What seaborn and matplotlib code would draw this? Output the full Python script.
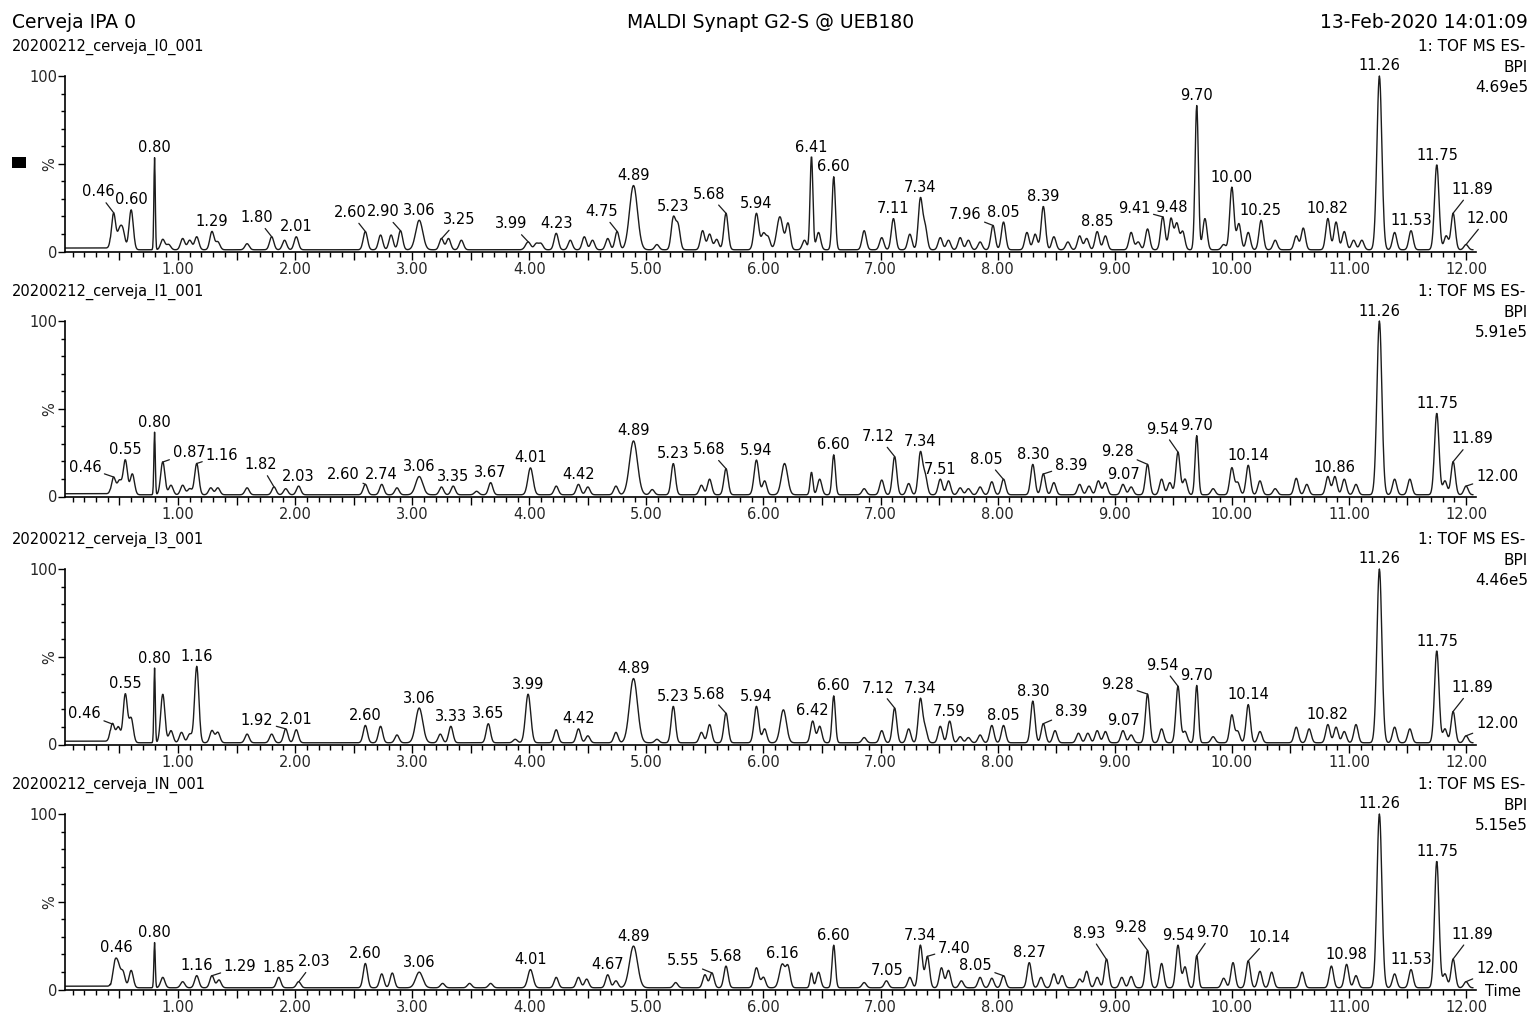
# BPI chromatograms of the IPA beer samples (MassLynx style export)

import numpy as np
import pandas as pd
import matplotlib
matplotlib.use('Agg')
import matplotlib.pyplot as plt
from matplotlib.patches import Rectangle
import seaborn as sns


# Header texts
title_left = 'Cerveja IPA 0'
title_mid = 'MALDI Synapt G2-S @ UEB180'
title_right = '13-Feb-2020 14:01:09'

samples = ['20200212_cerveja_I0_001', '20200212_cerveja_I1_001',
           '20200212_cerveja_I3_001', '20200212_cerveja_IN_001']
intensity = ['4.69e5', '5.91e5', '4.46e5', '5.15e5']
start_level = [2.0, 1.6, 1.9, 1.9]

# Peaks: retention time (min) and height (%)
rt_i0 = [0.45, 0.50, 0.53, 0.60, 0.80, 0.87, 0.92, 1.04, 1.10, 1.16,
         1.29, 1.34, 1.59, 1.80, 1.91, 2.01, 2.60, 2.73, 2.82, 2.90,
         3.06, 3.25, 3.31, 3.42, 3.99, 4.06, 4.10, 4.23, 4.35, 4.47,
         4.54, 4.67, 4.75, 4.89, 5.09, 5.23, 5.27, 5.48, 5.54, 5.60,
         5.68, 5.94, 6.00, 6.04, 6.14, 6.21, 6.35, 6.41, 6.47, 6.60,
         6.86, 7.01, 7.11, 7.25, 7.34, 7.38, 7.51, 7.58, 7.68, 7.75,
         7.85, 7.96, 8.05, 8.25, 8.32, 8.39, 8.48, 8.60, 8.70, 8.76,
         8.85, 8.92, 9.14, 9.20, 9.28, 9.41, 9.48, 9.53, 9.58, 9.70,
         9.77, 9.93, 10.00, 10.06, 10.14, 10.25, 10.37, 10.55, 10.61, 10.82,
         10.89, 10.96, 11.04, 11.11, 11.26, 11.39, 11.53, 11.75, 11.83, 11.89,
         12.00]
h_i0 = [21, 10, 10, 23, 53, 6, 3, 6.5, 5.5, 7.5,
        10.5, 4.5, 3.5, 7.5, 5.5, 7.5, 10.5, 8.5, 8.5, 11,
        17, 6.5, 6.5, 5.5, 4.5, 3.5, 3.5, 9.5, 5.5, 7.5,
        5.5, 6.5, 10.5, 37, 3, 18, 14, 11, 9, 6,
        21, 21, 9, 7, 19, 15, 5.5, 54, 10, 42,
        11, 7, 18, 9, 29, 13, 7, 5.5, 7, 5.5,
        4.5, 14, 16, 10, 9, 25, 7.5, 4.5, 8, 6.5,
        10.5, 8, 10, 4.5, 12, 19, 18, 15, 10.5, 83,
        18, 3, 36, 15, 10, 17, 5.5, 8, 12.5, 18,
        16, 10.5, 5.5, 5.5, 100, 10, 11, 49, 8, 21,
        3]

rt_i1 = [0.45, 0.50, 0.55, 0.61, 0.80, 0.87, 0.94, 1.04, 1.10, 1.16,
         1.28, 1.34, 1.59, 1.82, 1.92, 2.03, 2.60, 2.74, 2.87, 3.06,
         3.25, 3.35, 3.55, 3.67, 4.01, 4.23, 4.42, 4.50, 4.74, 4.89,
         5.05, 5.23, 5.47, 5.54, 5.68, 5.94, 6.01, 6.18, 6.41, 6.48,
         6.60, 6.86, 7.01, 7.12, 7.24, 7.34, 7.38, 7.51, 7.58, 7.68,
         7.75, 7.85, 7.95, 8.05, 8.30, 8.39, 8.48, 8.70, 8.78, 8.86,
         8.92, 9.07, 9.14, 9.28, 9.40, 9.47, 9.54, 9.60, 9.70, 9.84,
         10.00, 10.05, 10.14, 10.24, 10.37, 10.55, 10.64, 10.82, 10.88, 10.96,
         11.06, 11.26, 11.39, 11.52, 11.75, 11.82, 11.89, 12.00]
h_i1 = [10, 8, 20, 12, 36, 19, 5.5, 5.5, 3.5, 18,
        4, 4, 4, 4.5, 3.5, 5, 6, 6, 4, 10.5,
        4.5, 5, 2, 7, 15.5, 5, 6, 4.5, 5, 31,
        3, 18, 5.5, 9, 15, 20, 8, 18, 13, 9,
        23, 3.5, 8.5, 22, 6.5, 24, 11, 9, 8, 4,
        3.5, 4.5, 7.5, 9, 17.5, 12, 7, 6, 5, 8,
        7, 6, 4.5, 17.5, 9, 7, 24.5, 9, 34, 3.5,
        15.5, 7, 17, 8, 3.5, 9.5, 6, 10.5, 10.5, 9,
        6, 100, 9, 9, 47, 8, 19, 5]

rt_i3 = [0.44, 0.49, 0.55, 0.60, 0.80, 0.87, 0.94, 1.03, 1.10, 1.16,
         1.29, 1.34, 1.59, 1.80, 1.92, 2.01, 2.60, 2.73, 2.87, 3.06,
         3.24, 3.33, 3.65, 3.88, 3.99, 4.23, 4.42, 4.50, 4.74, 4.89,
         5.09, 5.23, 5.47, 5.54, 5.68, 5.94, 6.01, 6.17, 6.42, 6.48,
         6.60, 6.86, 7.01, 7.12, 7.24, 7.34, 7.38, 7.51, 7.59, 7.68,
         7.75, 7.85, 7.95, 8.05, 8.30, 8.39, 8.49, 8.69, 8.77, 8.85,
         8.92, 9.07, 9.14, 9.28, 9.40, 9.54, 9.60, 9.70, 9.84, 10.00,
         10.05, 10.14, 10.24, 10.55, 10.66, 10.82, 10.89, 10.96, 11.06, 11.26,
         11.39, 11.52, 11.75, 11.82, 11.89, 12.00]
h_i3 = [11, 9, 28, 14, 43, 28, 7, 6, 5, 44,
        7, 6, 5, 5, 8, 7.5, 10, 9.5, 4.5, 20,
        5, 9.5, 11, 2, 28, 7.5, 8, 4, 6, 37,
        2, 21, 6, 10.5, 17, 21, 8, 19, 12.5, 9.5,
        27, 3, 7, 20, 8, 25, 8, 9.5, 12.5, 3.5,
        3, 4.5, 10, 10, 24, 11, 7, 5.5, 5.5, 7,
        6.5, 7, 4.5, 28, 8, 32.5, 6.5, 33, 3.5, 16,
        6.5, 22, 6.5, 9, 8, 10.5, 9, 6.5, 10.5, 100,
        9, 8, 53, 8, 18, 4]

rt_in = [0.46, 0.49, 0.53, 0.60, 0.80, 0.87, 1.04, 1.16, 1.29, 1.35,
         1.86, 2.03, 2.60, 2.74, 2.83, 3.06, 3.26, 3.49, 3.67, 4.01,
         4.23, 4.42, 4.49, 4.67, 4.74, 4.89, 5.25, 5.50, 5.56, 5.68,
         5.94, 6.00, 6.16, 6.21, 6.41, 6.47, 6.60, 6.86, 7.05, 7.25,
         7.34, 7.40, 7.52, 7.58, 7.69, 7.85, 7.95, 8.05, 8.27, 8.37,
         8.48, 8.55, 8.70, 8.76, 8.85, 8.93, 9.06, 9.14, 9.28, 9.40,
         9.54, 9.60, 9.70, 9.93, 10.01, 10.14, 10.24, 10.34, 10.60, 10.85,
         10.98, 11.06, 11.26, 11.39, 11.53, 11.75, 11.82, 11.89, 12.00]
h_in = [13, 11, 9, 10, 26, 6, 3.5, 7, 7, 4.5,
        6, 3.5, 14, 8, 8.5, 9, 2.5, 2.5, 2.5, 10.5,
        6, 6, 5, 7.5, 4, 24, 3, 7.5, 8.5, 12.5,
        11.5, 6, 13.5, 11.5, 8.5, 9, 24.5, 3, 4, 6,
        24.5, 18, 11.5, 10, 4, 6, 5.5, 7, 14.5, 6,
        8, 7, 5, 9.5, 6, 16.5, 6, 6.5, 21.5, 14,
        24.5, 12, 18.5, 5.5, 14.5, 15.5, 9.5, 9, 9, 12.5,
        13.5, 7, 100, 8, 10.5, 73, 8, 16.5, 3.5]

# Peak widths (sigma, min) for compounds that are not of the usual width
peak_width = {0.80: 0.006, 3.06: 0.03, 3.99: 0.022, 4.01: 0.022, 4.89: 0.034,
              5.94: 0.02, 6.14: 0.026, 6.16: 0.024, 6.17: 0.026,
              6.18: 0.026, 6.41: 0.012, 6.60: 0.014, 9.70: 0.014,
              11.26: 0.021, 11.75: 0.019}
default_width = 0.018

# Peak labels shown on each trace
labels_i0 = ['0.46', '0.60', '0.80', '1.29', '1.80', '2.01', '2.60', '2.90', '3.06',
             '3.25', '3.99', '4.23', '4.75', '4.89', '5.23', '5.68', '5.94', '6.41',
             '6.60', '7.11', '7.34', '7.96', '8.05', '8.39', '8.85', '9.41', '9.48',
             '9.70', '10.00', '10.25', '10.82', '11.26', '11.53', '11.75', '11.89', '12.00']
labels_i1 = ['0.46', '0.55', '0.80', '0.87', '1.16', '1.82', '2.03', '2.60', '2.74',
             '3.06', '3.35', '3.67', '4.01', '4.42', '4.89', '5.23', '5.68', '5.94',
             '6.60', '7.12', '7.34', '7.51', '8.05', '8.30', '8.39', '9.07', '9.28',
             '9.54', '9.70', '10.14', '10.86', '11.26', '11.75', '11.89', '12.00']
labels_i3 = ['0.46', '0.55', '0.80', '1.16', '1.92', '2.01', '2.60', '3.06', '3.33',
             '3.65', '3.99', '4.42', '4.89', '5.23', '5.68', '5.94', '6.42', '6.60',
             '7.12', '7.34', '7.59', '8.05', '8.30', '8.39', '9.07', '9.28', '9.54',
             '9.70', '10.14', '10.82', '11.26', '11.75', '11.89', '12.00']
labels_in = ['0.46', '0.80', '1.16', '1.29', '1.85', '2.03', '2.60', '3.06', '4.01',
             '4.67', '4.89', '5.55', '5.68', '6.16', '6.60', '7.05', '7.34', '7.40',
             '8.05', '8.27', '8.93', '9.28', '9.54', '9.70', '10.14', '10.98', '11.26',
             '11.53', '11.75', '11.89', '12.00']

# labels that sit off the peak with a leader line (pixel offsets)
leaders_i0 = {'0.46': (-16, 21), '1.80': (-15, 19), '2.60': (-15, 19), '2.90': (-17, 19),
              '3.25': (17, 19), '3.99': (-17, 18), '4.75': (-16, 20), '5.68': (-17, 19),
              '7.96': (-28, 11), '9.41': (-29, 8), '11.89': (19, 24), '12.00': (21, 26)}
leaders_i1 = {'0.46': (-29, 10), '0.87': (26, 9), '1.16': (25, 8), '1.82': (-13, 22),
              '2.60': (-22, 10), '5.68': (-17, 19), '7.12': (-16, 20), '8.05': (-17, 20),
              '8.39': (28, 9), '9.28': (-30, 13), '9.54': (-16, 23), '11.89': (19, 23),
              '12.00': (31, 10)}
leaders_i3 = {'0.46': (-29, 11), '1.92': (-29, 8), '5.68': (-17, 19), '7.12': (-16, 20),
              '8.39': (28, 12), '9.28': (-30, 10), '9.54': (-16, 21), '11.89': (19, 24),
              '12.00': (31, 12)}
leaders_in = {'1.29': (28, 9), '2.03': (15, 20), '5.55': (-29, 12), '7.40': (27, 8),
              '8.05': (-28, 10), '8.93': (-17, 26), '9.28': (-17, 23), '9.70': (16, 23),
              '10.14': (21, 23), '11.89': (19, 25), '12.00': (31, 13)}

panels = [(rt_i0, h_i0, labels_i0, leaders_i0),
          (rt_i1, h_i1, labels_i1, leaders_i1),
          (rt_i3, h_i3, labels_i3, leaders_i3),
          (rt_in, h_in, labels_in, leaders_in)]


sns.set_style('ticks')
plt.rcParams['font.family'] = ['DejaVu Sans']
plt.rcParams['text.color'] = 'black'

W, H = 1533, 1019
fig = plt.figure(figsize=(W / 100, H / 100), dpi=100)


def fx(px):
    return px / W


def fy(py):
    return 1 - py / H


# Header line
fig.text(fx(12), fy(28.5), title_left, fontsize=13.5, va='baseline', ha='left')
fig.text(fx(771), fy(28.5), title_mid, fontsize=13.5, va='baseline', ha='center')
fig.text(fx(1528), fy(28.5), title_right, fontsize=13.5, va='baseline', ha='right')

t = np.arange(0.04, 12.06, 0.004)

ax_left, ax_right = 65, 1476
ax_tops = [76, 321, 569, 814]
ax_h = 175.5

for i, (rts, hs, labels, leaders) in enumerate(panels):
    top = ax_tops[i]
    ax = fig.add_axes([fx(ax_left), fy(top + ax_h), fx(ax_right - ax_left), ax_h / H])

    # build the trace from the peak table
    y = np.where(t < 0.42, start_level[i], 1.0)
    for rt, h in zip(rts, hs):
        w = peak_width.get(rt, default_width)
        y = y + h * np.exp(-0.5 * ((t - rt) / w) ** 2)
    y = y / y.max() * 100

    df = pd.DataFrame({'time': t, 'pct': y})
    sns.lineplot(data=df, x='time', y='pct', ax=ax, color='#1c1c1c',
                 linewidth=1.0, estimator=None, sort=False)
    for line in ax.lines:
        line.set_clip_on(False)

    ax.set_xlim(0.035, 12.085)
    ax.set_ylim(0, 100)
    ax.set_xlabel('')
    ax.set_ylabel('')
    ax.set_facecolor('none')
    sns.despine(ax=ax)
    for side in ['left', 'bottom']:
        ax.spines[side].set_color('black')
        ax.spines[side].set_linewidth(1.2)

    xt = np.arange(0.5, 12.01, 0.5)
    ax.set_xticks(xt)
    ax.set_xticklabels([f'{v:.2f}' if v == int(v) else '' for v in xt], fontsize=10.5)
    ax.set_xticks(np.arange(0.1, 12.05, 0.1), minor=True)
    ax.set_yticks([0, 50, 100])
    ax.set_yticklabels(['0', '%', '100'], fontsize=10.5)
    ax.get_yticklabels()[1].set_rotation(90)
    ax.get_yticklabels()[1].set_va('center')
    ax.set_yticks(np.arange(10, 100, 10), minor=True)
    ax.tick_params(axis='x', which='major', length=6, width=1, pad=1.5, color='black')
    ax.tick_params(axis='x', which='minor', length=3.5, width=1, color='black')
    ax.tick_params(axis='y', which='major', length=5, width=1, pad=0.5, color='black')
    ax.tick_params(axis='y', which='minor', length=3, width=1, color='black')

    # peak labels
    for lab in labels:
        rt = float(lab)
        near = np.abs(t - rt) < 0.015
        yv = y[near].max()
        xv = t[near][np.argmax(y[near])]
        if lab in leaders:
            dx, dy = leaders[lab]
            ax.annotate(lab, xy=(xv, yv), xytext=(dx, dy), textcoords='offset pixels',
                        ha='center', va='center', fontsize=10.5, annotation_clip=False,
                        arrowprops=dict(arrowstyle='-', color='#1c1c1c', lw=0.9,
                                        shrinkA=0, shrinkB=0))
        else:
            ax.annotate(lab, xy=(xv, yv), xytext=(0, 10), textcoords='offset pixels',
                        ha='center', va='center', fontsize=10.5, annotation_clip=False)

    # per trace texts
    fig.text(fx(12), fy(top - 25), samples[i], fontsize=10.5, va='baseline', ha='left')
    fig.text(fx(1525), fy(top - 25), '1: TOF MS ES-', fontsize=11, va='baseline', ha='right')
    fig.text(fx(1528), fy(top - 4), 'BPI', fontsize=11, va='baseline', ha='right')
    fig.text(fx(1528), fy(top + 16), intensity[i], fontsize=11, va='baseline', ha='right')

fig.text(fx(1503), fy(991), 'Time', fontsize=10.5, va='center', ha='center')

# small black marker at the left of the first trace
fig.patches.append(Rectangle((fx(12), fy(168)), 14 / W, 11 / H, transform=fig.transFigure,
                             facecolor='black', edgecolor='none', figure=fig))

fig.savefig('out.png', dpi=100)
